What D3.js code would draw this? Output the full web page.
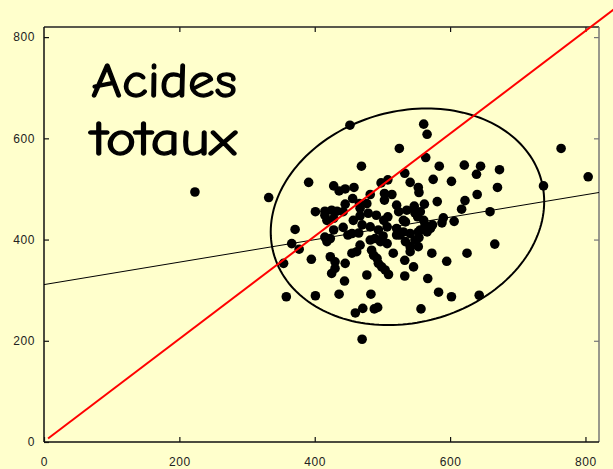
<!DOCTYPE html>
<html lang="fr">
<head>
    <meta charset="UTF-8">
    <title>Acides totaux</title>
    <style>
        body { margin: 0; background: #ffffcc; }
        svg { display: block; }
        .tick text {
            font-family: "Liberation Sans", Arial, sans-serif;
            font-size: 12px;
            fill: #222;
            letter-spacing: 0.6px;
        }
        .tick line { stroke: #111; stroke-width: 1.2px; }
        .right .tick line { stroke: #777; }
    </style>
</head>
<body>

<svg width="613" height="469"></svg>

<script src="https://cdn.jsdelivr.net/npm/d3@7"></script>

<script>
    // values
    var xValues = [223, 332, 452, 561, 566, 525, 469, 564, 584, 391, 575, 428, 436, 445, 458, 498, 508, 533, 541, 553,
        554, 621, 645, 639, 673, 602, 670, 640, 581, 622, 617, 562, 659, 590, 588, 606, 574, 738, 764, 804,
        666, 625, 595, 573, 567, 583, 602, 643, 557, 533, 516, 533, 546, 541, 548, 553, 534, 526, 556, 571,
        554, 566, 541, 547, 548, 552, 536, 531, 521, 524, 561, 563, 534, 556, 553, 541, 531, 521, 507, 494,
        482, 470, 465, 455, 442, 428, 415, 371, 366, 377, 395, 354, 358, 401, 436, 483, 460, 471, 488, 493,
        470, 477, 445, 444, 423, 430, 425, 430, 455, 462, 467, 482, 489, 497, 507, 484, 487, 492, 494, 499,
        504, 509, 418, 423, 401, 415, 425, 433, 418, 428, 415, 442, 457, 467, 479, 491, 508, 502, 482, 477,
        503, 503, 514, 456, 445, 466, 467, 449, 501, 521];
    var yValues = [494, 483, 626, 628, 608, 580, 545, 562, 545, 513, 519, 506, 496, 500, 503, 512, 518, 531, 513, 503,
        493, 547, 545, 529, 538, 515, 503, 489, 475, 477, 460, 470, 455, 443, 433, 436, 429, 506, 580, 524,
        391, 373, 357, 373, 323, 296, 287, 290, 263, 328, 373, 359, 346, 376, 399, 386, 396, 409, 419, 422,
        404, 415, 386, 466, 453, 445, 458, 438, 468, 455, 438, 429, 435, 455, 415, 412, 415, 422, 425, 419,
        425, 429, 413, 412, 424, 419, 405, 420, 392, 381, 361, 353, 287, 289, 292, 292, 255, 264, 263, 266,
        203, 330, 353, 318, 366, 356, 333, 343, 373, 376, 389, 399, 402, 396, 392, 379, 369, 363, 353, 346,
        340, 331, 396, 402, 455, 456, 458, 456, 438, 442, 448, 455, 438, 447, 452, 448, 445, 438, 489, 471,
        491, 478, 489, 481, 470, 471, 462, 409, 407, 409];
    var tickValues = [0, 200, 400, 600, 800];
    var identityLine = [[6, 7], [850, 863]];
    var fitLine = [[0, 311], [820, 493]];
    var ellipse = {cx: 537, cy: 445, sx: 202, sy: 214, r: 0.14};
    var titleLines = ["Acides", "totaux"];

    var points = xValues.map(function (d, i) { return {x: d, y: yValues[i]}; });

    var svg = d3.select("svg");
    var width = +svg.attr("width");
    var height = +svg.attr("height");
    var margin = {top: 27, right: 14, bottom: 27, left: 44};

    var x = d3.scaleLinear().domain([0, 820]).range([margin.left, width - margin.right]);
    var y = d3.scaleLinear().domain([0, 820]).range([height - margin.bottom, margin.top]);

    svg.append("rect")
        .attr("width", width)
        .attr("height", height)
        .attr("fill", "#ffffcc");

    // axes, ticks pointing inwards
    svg.append("g")
        .attr("transform", `translate(0, ${y(0)})`)
        .call(d3.axisBottom(x).tickValues(tickValues).tickSize(-5).tickPadding(15))
        .call(g => g.select(".domain").remove());

    svg.append("g")
        .attr("transform", `translate(${x(0)}, 0)`)
        .call(d3.axisLeft(y).tickValues(tickValues).tickSize(-5).tickPadding(9))
        .call(g => g.select(".domain").remove());

    svg.append("g")
        .attr("transform", `translate(0, ${y(820)})`)
        .call(d3.axisTop(x).tickValues(tickValues.slice(1)).tickSize(-5).tickFormat(""))
        .call(g => g.select(".domain").remove());

    svg.append("g")
        .attr("class", "right")
        .attr("transform", `translate(${x(820)}, 0)`)
        .call(d3.axisRight(y).tickValues(tickValues.slice(1)).tickSize(-5).tickFormat(""))
        .call(g => g.select(".domain").remove());

    // frame
    var frame = svg.append("g").attr("stroke-width", 1.5);
    frame.append("line").attr("x1", x(0)).attr("x2", x(820)).attr("y1", y(820)).attr("y2", y(820)).attr("stroke", "#222");
    frame.append("line").attr("x1", x(820)).attr("x2", x(820)).attr("y1", y(820)).attr("y2", y(0)).attr("stroke", "#777");
    frame.append("line").attr("x1", x(0)).attr("x2", x(820)).attr("y1", y(0)).attr("y2", y(0)).attr("stroke", "#111");
    frame.append("line").attr("x1", x(0)).attr("x2", x(0)).attr("y1", y(820)).attr("y2", y(0)).attr("stroke", "#111");

    // title
    svg.append("g")
        .selectAll("text")
        .data(titleLines)
        .join("text")
        .attr("x", 91)
        .attr("y", (d, i) => 97 + i * 58)
        .attr("textLength", 146)
        .attr("lengthAdjust", "spacingAndGlyphs")
        .style("font-family", '"Comic Sans MS", "Comic Neue", Lato, sans-serif')
        .style("font-size", "48px")
        .attr("fill", "#000")
        .attr("stroke", "#000")
        .attr("stroke-width", 1.3)
        .attr("stroke-linejoin", "round")
        .text(d => d);

    // ellipse
    var angles = d3.range(0, 2 * Math.PI, Math.PI / 90);
    var ellipsePath = d3.line()
        .x(t => x(ellipse.cx + ellipse.sx * Math.cos(t)))
        .y(t => y(ellipse.cy + ellipse.sy * (ellipse.r * Math.cos(t) + Math.sqrt(1 - ellipse.r * ellipse.r) * Math.sin(t))))
        .curve(d3.curveLinearClosed);

    svg.append("path")
        .datum(angles)
        .attr("d", ellipsePath)
        .attr("fill", "none")
        .attr("stroke", "#000")
        .attr("stroke-width", 2);

    var line = d3.line()
        .x(d => x(d[0]))
        .y(d => y(d[1]));

    svg.append("path")
        .datum(fitLine)
        .attr("d", line)
        .attr("stroke", "#000")
        .attr("stroke-width", 1);

    svg.append("g")
        .selectAll("circle")
        .data(points)
        .join("circle")
        .attr("cx", d => x(d.x))
        .attr("cy", d => y(d.y))
        .attr("r", 4.8)
        .attr("fill", "#000");

    svg.append("path")
        .datum(identityLine)
        .attr("d", line)
        .attr("stroke", "#ff0000")
        .attr("stroke-width", 2);
</script>

</body>
</html>
